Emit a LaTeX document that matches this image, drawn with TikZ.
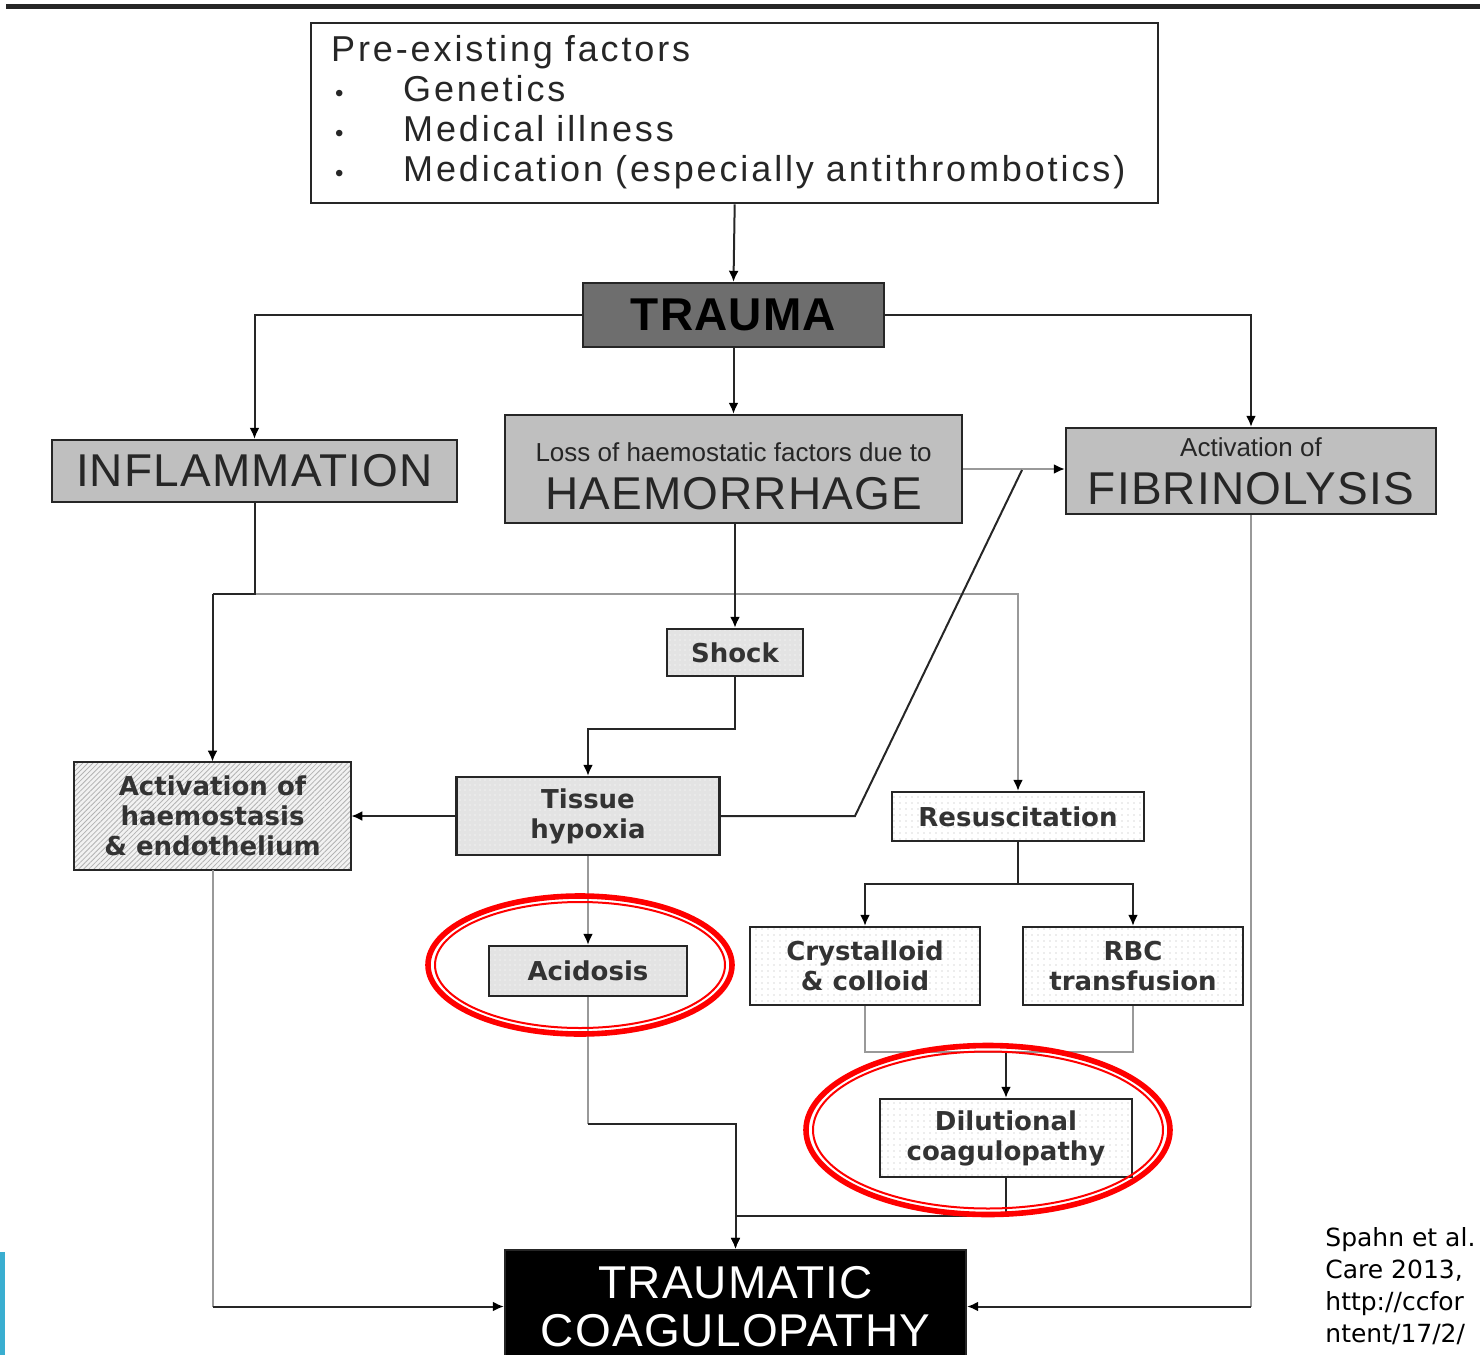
\documentclass[tikz,border=0pt]{standalone}
\usepackage{fontspec}
\setmainfont{Liberation Sans}
\newfontfamily\lblfont{DejaVu Sans}
\usetikzlibrary{arrows.meta,patterns.meta}

\definecolor{slideblue}{HTML}{3AAED0}
\newcommand\presize{\addfontfeatures{LetterSpace=8}\fontsize{18}{20}\selectfont}
\newcommand\capsize{\addfontfeatures{LetterSpace=2.5}\fontsize{23}{24}\selectfont}
\newcommand\subsize{\addfontfeatures{LetterSpace=0}\fontsize{13}{15}\selectfont}
\newcommand\labelsize{\lblfont\bfseries\fontsize{13}{15}\selectfont}
\newcommand\citesize{\lblfont\fontsize{12.5}{16}\selectfont}
\newcommand\smallbullet{{\fontsize{12}{12}\selectfont\textbullet}}

\begin{document}
\begin{tikzpicture}[
    x=0.5pt, y=-0.5pt,
    box/.style={draw=black!85, line width=1.2pt, inner sep=0pt, align=center},
    greybox/.style={box, fill=black!25, text=black!85, font=\capsize},
    dotbox/.style={box, text=black!80, font=\labelsize,
        preaction={fill=black!11}, pattern={Dots[distance=2.5pt,radius=0.35pt]},
        pattern color=white},
    whitebox/.style={box, text=black!80, font=\labelsize,
        preaction={fill=white}, pattern={Dots[distance=3pt,radius=0.35pt]},
        pattern color=black!30},
    hatchbox/.style={box, text=black!80, font=\labelsize,
        preaction={fill=black!5}, pattern={Lines[angle=45,distance=1.8pt,line width=0.4pt]},
        pattern color=black!30},
    link/.style={black!85, line width=1pt},
    glink/.style={black!40, line width=1pt},
    arr/.style={-{Latex[length=5.5pt,width=5pt,black]}},
    ring/.style={red, line width=2.8pt},
    thinring/.style={red, line width=1pt}
]
    \useasboundingbox (0,0) rectangle (1480,1355);
    \draw[black!85, line width=2.5pt] (6,6.5) -- (1480,6.5);
    \fill[slideblue] (0,1252) rectangle (5,1355);

    % boxes
    \node[box, anchor=north west, text width=403.5pt, inner xsep=10pt,
        minimum height=90pt, align=left, font=\presize, text=black!85] (pre) at (310,22)
        {\begin{tabular}{@{}p{36pt}@{}l@{}}
            \multicolumn{2}{@{}l@{}}{Pre-existing factors}\\
            \hspace{2pt}\smallbullet & Genetics\\
            \hspace{2pt}\smallbullet & Medical illness\\
            \hspace{2pt}\smallbullet & Medication (especially antithrombotics)
        \end{tabular}};
    \node[box, fill=black!57, text=black, font=\capsize\bfseries,
        minimum width=150.5pt, minimum height=32pt] (trauma) at (733.5,315) {TRAUMA};
    \node[greybox, minimum width=202.5pt, minimum height=31pt] (inflam) at (254.5,471) {INFLAMMATION};
    \node[greybox, minimum width=228.5pt, minimum height=54pt] (haem) at (733.5,469)
        {{\subsize\rule{0pt}{17pt}Loss of haemostatic factors due to}\\HAEMORRHAGE};
    \node[greybox, minimum width=185pt, minimum height=43pt] (fibrin) at (1251,471)
        {{\subsize Activation of}\\FIBRINOLYSIS};
    \node[dotbox, minimum width=68pt, minimum height=23.5pt] (shock) at (735,652.5) {Shock};
    \node[dotbox, minimum width=131.5pt, minimum height=39pt] (tissue) at (588,816) {Tissue\\hypoxia};
    \node[hatchbox, minimum width=138.5pt, minimum height=54pt] (activ) at (212.5,816)
        {Activation of\\haemostasis\\\& endothelium};
    \node[dotbox, minimum width=99pt, minimum height=25pt] (acid) at (588,971) {Acidosis};
    \node[whitebox, minimum width=126pt, minimum height=24.5pt] (resus) at (1018,816.5) {Resuscitation};
    \node[whitebox, minimum width=115pt, minimum height=39pt] (cryst) at (865,966) {Crystalloid\\\& colloid};
    \node[whitebox, minimum width=110pt, minimum height=39pt] (rbc) at (1133,966) {RBC\\transfusion};
    \node[whitebox, minimum width=126pt, minimum height=39pt] (dilut) at (1006,1138) {Dilutional\\coagulopathy};
    \node[box, fill=black, text=white, font=\capsize,
        minimum width=230.5pt, minimum height=56.5pt] (tc) at (735.5,1306.5) {TRAUMATIC\\COAGULOPATHY};
    \node[anchor=north west, inner sep=0pt, align=left, font=\citesize] (cite) at (1325,1227)
        {Spahn et al.\\Care 2013,\\http://ccfor\\ntent/17/2/};

    % connectors
    \coordinate (hbar) at (0,594);
    \coordinate (djoin) at (0,1052);
    \coordinate (kink) at (855,816);
    \coordinate (kinkend) at (1022,470);

    \draw[link,arr] (pre.south) -- (trauma.north);
    \draw[link,arr] (trauma.west) -| (inflam.north);
    \draw[link,arr] (trauma.east) -| (fibrin.north);
    \draw[link,arr] (trauma.south) -- (haem.north);
    \draw[glink,arr] (haem.east) -- (fibrin.west |- haem.east);
    \draw[glink,arr] (activ.north |- hbar) -- (resus.north |- hbar) -- (resus.north);
    \draw[link] (inflam.south) -- (inflam.south |- hbar) -- (activ.north |- hbar);
    \draw[link,arr] (activ.north |- hbar) -- (activ.north);
    \draw[link,arr,line width=1.4pt] (haem.south -| shock.north) -- (shock.north);
    \draw[link,arr] (shock.south) -- ++(0,52) -| (tissue.north);
    \draw[link,arr] (tissue.west) -- (activ.east);
    \draw[link] (tissue.east) -- (kink) -- (kinkend);
    \draw[glink,arr] (tissue.south) -- (acid.north);
    \draw[glink] (acid.south) -- ++(0,127) coordinate (ajoin);
    \draw[link,arr] (ajoin) -| (tc.north);
    \draw[link] (resus.south) -- ++(0,42) coordinate (rsplit);
    \draw[link,arr] (rsplit) -| (cryst.north);
    \draw[link,arr] (rsplit) -| (rbc.north);
    \draw[glink] (cryst.south) |- (rbc.south |- djoin) -- (rbc.south);
    \draw[link,arr] (dilut.north |- djoin) -- (dilut.north);
    \draw[link,arr] (dilut.south) -- ++(0,38) -| (tc.north);
    \draw[glink] (activ.south) -- (activ.south |- tc.west);
    \draw[link,arr] (activ.south |- tc.west) -- (tc.west);
    \draw[glink] (fibrin.south) -- (fibrin.south |- tc.east);
    \draw[link,arr] (fibrin.south |- tc.east) -- (tc.east);

    % red rings
    \draw[ring] (580,965) ellipse [x radius=76pt, y radius=34.5pt];
    \draw[thinring] (580,965) ellipse [x radius=72.5pt, y radius=31.5pt];
    \draw[ring] (988,1130) ellipse [x radius=91pt, y radius=42.25pt];
    \draw[thinring] (988,1130) ellipse [x radius=87.5pt, y radius=39.25pt];
\end{tikzpicture}
\end{document}
